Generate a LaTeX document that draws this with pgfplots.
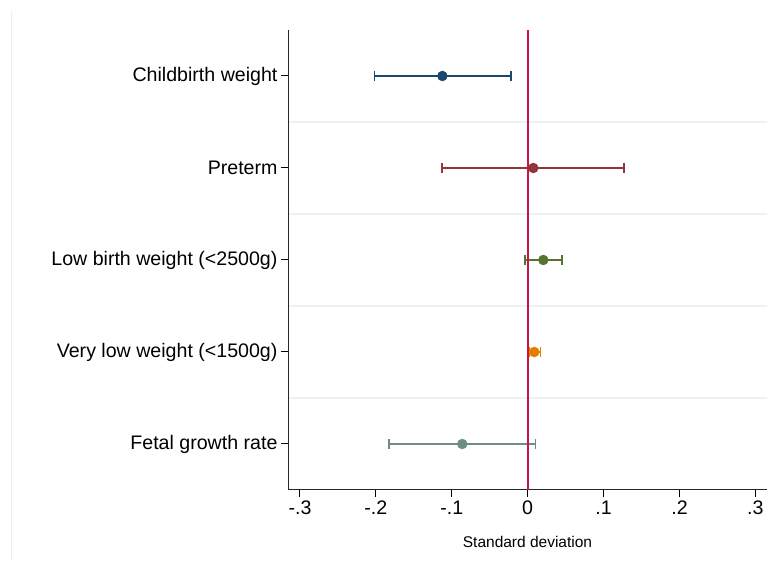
\documentclass[border=0pt]{standalone}
\usepackage{pgfplots}
\pgfplotsset{compat=1.18}
\usepackage{fontspec}
\setmainfont{Liberation Sans}
\definecolor{c1}{RGB}{26,71,111}
\definecolor{c2}{RGB}{144,53,59}
\definecolor{c3}{RGB}{85,117,47}
\definecolor{c4}{RGB}{227,126,0}
\definecolor{c5}{RGB}{110,142,132}
\definecolor{zero}{RGB}{200,22,68}
\definecolor{sep}{RGB}{234,242,243}
\begin{document}
\begin{tikzpicture}[x=1pt,y=1pt]
\useasboundingbox (0,0) rectangle (767,572);
\draw[color=sep, line width=1pt] (11,12) -- (11,562);
\begin{axis}[
  at={(288pt,82pt)}, anchor=south west,
  scale only axis, width=479pt, height=460pt,
  xmin=-0.3158, xmax=0.3153, ymin=0.5, ymax=5.5,
  axis lines=left, axis line style={-, line width=1pt, black!85},
  xtick={-0.3,-0.2,-0.1,0,0.1,0.2,0.3},
  xticklabels={-.3,-.2,-.1,0,.1,.2,.3},
  ytick={1,2,3,4,5},
  yticklabels={Fetal growth rate, Very low weight (<1500g), Low birth weight (<2500g), Preterm, Childbirth weight},
  tick align=outside, major tick length=7pt,
  tick style={black, line width=1pt},
  ticklabel style={font=\fontsize{19.6}{22}\selectfont},
  xlabel={Standard deviation},
  xlabel style={font=\fontsize{15.5}{18}\selectfont, yshift=-15pt},
  minor ytick={1.5,2.5,3.5,4.5}, yminorgrids,
  minor grid style={color=sep, line width=2pt},
  minor tick length=0pt,
  error bars/x dir=both, error bars/x explicit,
  error bars/error bar style={line width=2pt},
  error bars/error mark options={line width=1.5pt, mark size=5pt, rotate=90},
]
\addplot[only marks, mark=*, color=c1, mark size=5pt] coordinates {(-0.1124,5) += (0.0904,0) -= (0.0897,0)};
\addplot[only marks, mark=*, color=c2, mark size=5pt] coordinates {(0.0074,4) += (0.1195,0) -= (0.1203,0)};
\addplot[only marks, mark=*, color=c3, mark size=5pt] coordinates {(0.0206,3) += (0.0246,0) -= (0.0242,0)};
\addplot[only marks, mark=*, color=c4, mark size=5pt] coordinates {(0.0087,2) += (0.0084,0) -= (0.0066,0)};
\addplot[only marks, mark=*, color=c5, mark size=5pt] coordinates {(-0.0862,1) += (0.0967,0) -= (0.0965,0)};
\draw[color=zero, line width=2pt] (axis cs:0,0.5) -- (axis cs:0,5.5);
\end{axis}
\end{tikzpicture}
\end{document}
